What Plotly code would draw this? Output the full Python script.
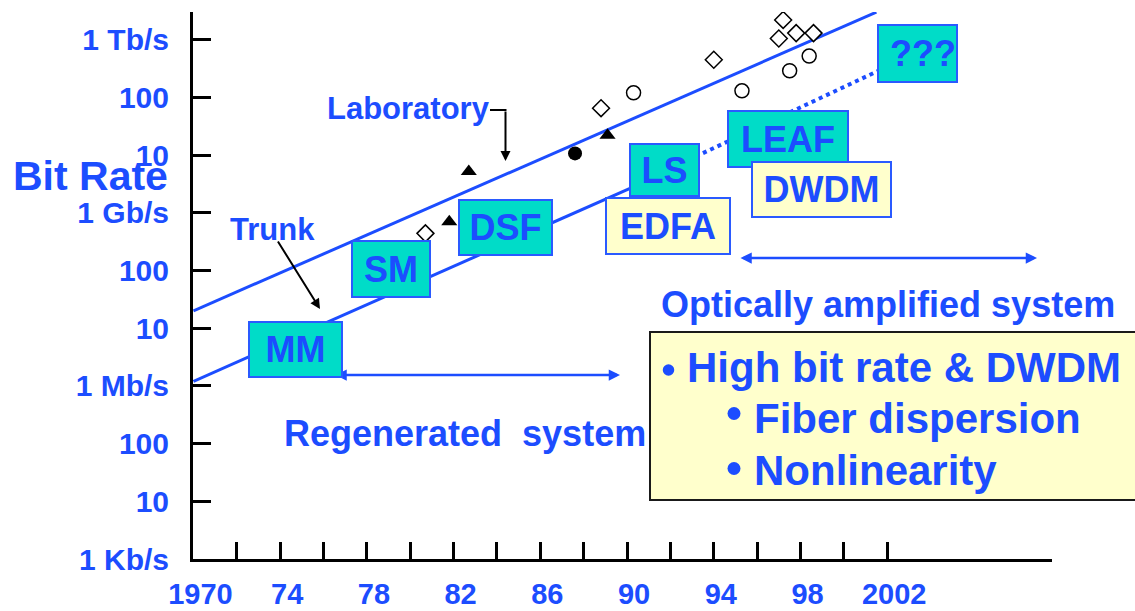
import plotly.graph_objects as go

# ---------------- data ----------------
x_tick_years = [1970, 1972, 1974, 1976, 1978, 1980, 1982, 1984, 1986,
                1988, 1990, 1992, 1994, 1996, 1998, 2000, 2002]
x_tick_labels = ['1970', '', '74', '', '78', '', '82', '', '86',
                 '', '90', '', '94', '', '98', '', '2002']
y_tick_values = [1e3, 1e4, 1e5, 1e6, 1e7, 1e8, 1e9, 1e10, 1e11, 1e12]
y_tick_labels = ['1 Kb/s', '10', '100', '1 Mb/s', '10', '100',
                 '1 Gb/s', '10', '100', '1 Tb/s']

lab_years = [1970.0, 2001.5]
lab_rates = [2.0e7, 3.0e12]
trunk_years = [1970.0, 1991.0]
trunk_rates = [1.2e6, 3.7e9]
proj_years = [1992.5, 2001.6]
proj_rates = [7.2e9, 2.9e11]

diamond_years = [1980.7, 1988.8, 1994.0, 1997.2, 1997.0, 1997.8, 1998.6]
diamond_rates = [4.4e8, 6.5e10, 4.5e11, 2.2e12, 1.05e12, 1.3e12, 1.3e12]
circle_years = [1990.3, 1995.3, 1997.5, 1998.4]
circle_rates = [1.2e11, 1.3e11, 2.9e11, 5.2e11]
dot_years = [1987.6]
dot_rates = [1.07e10]
tri_years = [1981.8, 1982.7, 1989.1]
tri_rates = [7.0e8, 5.2e9, 2.2e10]

fiber_labels = ['MM', 'SM', 'DSF', 'LS', 'LEAF', '???']
amp_labels = ['EDFA', 'DWDM']
bullet_lines = ['High bit rate & DWDM', 'Fiber dispersion', 'Nonlinearity']

# ---------------- style / layout helpers ----------------
W, H = 1135, 611
L, R, T, B = 193, 83, 12, 52
PW, PH = W - L - R, H - T - B
FONT = 'Liberation Sans, Arial, sans-serif'
BLUE = '#1c4dff'
TEAL = '#00dcc8'
YELLOW = '#ffffcc'
BOXLINE = '#2a5aff'


def px(x):
    return (x - L) / PW


def py(y):
    return (H - B - y) / PH


def bfont(size, color=BLUE):
    return dict(family=FONT, size=size, color=color, weight='bold')


fig = go.Figure()

fig.add_trace(go.Scatter(x=lab_years, y=lab_rates, mode='lines',
                         line=dict(color=BLUE, width=3), hoverinfo='skip'))
fig.add_trace(go.Scatter(x=trunk_years, y=trunk_rates, mode='lines',
                         line=dict(color=BLUE, width=3), hoverinfo='skip'))
fig.add_trace(go.Scatter(x=proj_years, y=proj_rates, mode='lines',
                         line=dict(color=BLUE, width=4, dash='dot'), hoverinfo='skip'))

fig.add_trace(go.Scatter(x=diamond_years, y=diamond_rates, mode='markers',
                         marker=dict(symbol='diamond', size=13, color='white',
                                     line=dict(color='black', width=1.5))))
fig.add_trace(go.Scatter(x=circle_years, y=circle_rates, mode='markers',
                         marker=dict(symbol='circle', size=14, color='white',
                                     line=dict(color='black', width=1.5))))
fig.add_trace(go.Scatter(x=dot_years, y=dot_rates, mode='markers',
                         marker=dict(symbol='circle', size=14, color='black')))
fig.add_trace(go.Scatter(x=tri_years, y=tri_rates, mode='markers',
                         marker=dict(symbol='triangle-up', size=14, color='black')))

ann = []


def text_ann(text, left, cy, size):
    ann.append(dict(text=text, x=px(left), y=py(cy), xref='paper', yref='paper',
                    xanchor='left', yanchor='middle', showarrow=False,
                    font=bfont(size), borderpad=0))


def box(text, left, top, w, h, bg, align='center'):
    bw = 2
    ann.append(dict(text=text, x=px(left), y=py(top), xref='paper', yref='paper',
                    xanchor='left', yanchor='top', showarrow=False,
                    width=w - 2 * bw, height=h - 2 * bw, bgcolor=bg,
                    bordercolor=BOXLINE, borderwidth=bw, borderpad=0,
                    align=align, valign='middle', font=bfont(36)))


def arrow(head, tail, color, width, both=False, size=1.0):
    ann.append(dict(text='', x=px(head[0]), y=py(head[1]), xref='paper', yref='paper',
                    ax=tail[0] - head[0], ay=tail[1] - head[1],
                    axref='pixel', ayref='pixel', showarrow=True,
                    arrowhead=2, arrowsize=size, arrowwidth=width, arrowcolor=color,
                    arrowside='end+start' if both else 'end',
                    standoff=0, startstandoff=0))


# free text
text_ann('Bit Rate', 12, 176, 41)
text_ann('Laboratory', 326, 108, 31)
text_ann('Trunk', 229, 230, 31)
text_ann('Regenerated\u00a0 system', 283, 433, 36)
text_ann('Optically amplified system', 660, 304, 36)

# arrows
arrow((505.5, 161), (505.5, 110), 'black', 2)
arrow((320, 309), (277, 240), 'black', 2)
arrow((620, 375), (334, 375), BLUE, 2.5, both=True, size=0.9)
arrow((1037, 258), (739, 258), BLUE, 2.5, both=True, size=0.9)

# labelled boxes
box_geom = {'MM': (248, 321, 95, 57), 'SM': (351, 240, 80, 58),
            'DSF': (458, 199, 95, 57), 'LS': (629, 143, 71, 54),
            'LEAF': (727, 110, 122, 58), '???': (877, 24, 81, 59),
            'EDFA': (605, 197, 126, 58), 'DWDM': (751, 161, 141, 57)}
draw_order = ['MM', 'SM', 'DSF', 'LS', 'EDFA', 'LEAF', 'DWDM', '???']
for lab in draw_order:
    g = box_geom[lab]
    if lab in fiber_labels:
        box(lab, *g, TEAL, align='right' if lab == '???' else 'center')
    else:
        box(lab, *g, YELLOW)

# bullet text in the yellow panel
text_ann(bullet_lines[0], 686, 367, 42)
text_ann(bullet_lines[1], 753, 418, 42)
text_ann(bullet_lines[2], 753, 470, 42)

shapes = [
    dict(type='rect', xref='paper', yref='paper', x0=px(650), x1=px(1140),
         y0=py(500), y1=py(332), fillcolor=YELLOW,
         line=dict(color='#1a1a1a', width=2), layer='above'),
    dict(type='line', xref='paper', yref='paper', x0=px(490), x1=px(506.5),
         y0=py(110), y1=py(110), line=dict(color='black', width=2), layer='above'),
]
for (cx, cy, d) in [(668.5, 370, 11.5), (734, 413.5, 13), (734, 468.5, 13)]:
    shapes.append(dict(type='circle', xref='paper', yref='paper',
                       x0=px(cx - d / 2), x1=px(cx + d / 2),
                       y0=py(cy + d / 2), y1=py(cy - d / 2),
                       fillcolor=BLUE, line=dict(width=0), layer='above'))

fig.update_layout(
    width=W, height=H,
    margin=dict(l=L, r=R, t=T, b=B, pad=0, autoexpand=False),
    paper_bgcolor='white', plot_bgcolor='white',
    showlegend=False,
    annotations=ann, shapes=shapes,
    xaxis=dict(range=[1969.98, 2009.6], showline=True, linecolor='black', linewidth=3,
               ticks='inside', ticklen=17, tickwidth=3, tickcolor='black',
               tickvals=x_tick_years, ticktext=x_tick_labels, tickfont=bfont(29),
               showgrid=False, zeroline=False, ticklabelshift=7, ticklabelstandoff=7,
               automargin=False),
    yaxis=dict(type='log', range=[3, 12.48], showline=True, linecolor='black', linewidth=3,
               ticks='inside', ticklen=18, tickwidth=3, tickcolor='black',
               tickvals=y_tick_values, ticktext=y_tick_labels, tickfont=bfont(30),
               showgrid=False, zeroline=False, ticklabelstandoff=15,
               automargin=False),
)

fig.write_html('out.html', config={'displayModeBar': False},
               post_script="document.body.style.margin='0px';document.body.style.overflow='hidden';")
